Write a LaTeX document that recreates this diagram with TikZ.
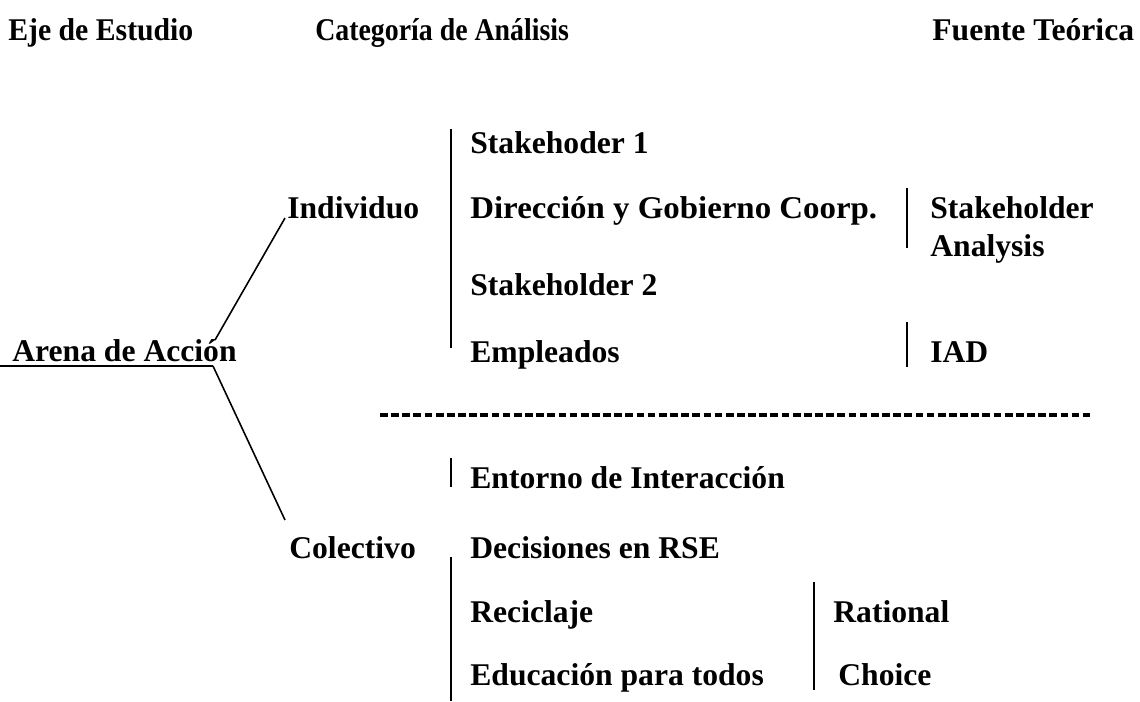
\documentclass[tikz,border=0pt]{standalone}
\usepackage{fontspec}
\setmainfont{Liberation Serif}
\newcommand{\hsq}[2]{\scalebox{#1}[1]{#2}}
\begin{document}
\begin{tikzpicture}[x=0.02cm,y=-0.02cm,
  lbl/.style={anchor=base west,inner sep=0pt,font=\fontsize{18}{21}\selectfont\bfseries},
  bar/.style={line width=1.1pt},
  branch/.style={line width=0.9pt}]
\useasboundingbox (0,0) rectangle (1140,701);
%
\node[lbl] (eje) at (8,40) {\hsq{0.94}{Eje de Estudio}};
\node[lbl] (cat) at (315,40) {\hsq{0.88}{Categoría de Análisis}};
\node[lbl] (fue) at (932,40) {Fuente Teórica};
%
\node[lbl] (arena) at (12,361) {Arena de Acción};
\coordinate (uline) at (0,366);
\coordinate (fork) at (213,366);
\coordinate (upS) at (215,340);
\coordinate (upE) at (285,218);
\coordinate (loE) at (285,520);
\draw[branch] (uline) -- (fork);
\draw[branch] (upS) -- (upE);
\draw[branch] (fork) -- (loE);
%
\node[lbl] (indiv) at (287,218) {Individuo};
\node[lbl] (stk1) at (470,153) {Stakehoder 1};
\node[lbl] (dir) at (470,218) {\hsq{1.04}{Dirección y Gobierno Coorp.}};
\node[lbl] (stk2) at (470,295) {Stakeholder 2};
\node[lbl] (emp) at (470,362) {Empleados};
\coordinate (b1t) at (451,129);
\coordinate (b1b) at (451,348);
\draw[bar] (b1t) -- (b1b);
%
\node[lbl] (sa1) at (930,218) {Stakeholder};
\node[lbl] (sa2) at (930,256) {Analysis};
\coordinate (b2t) at (907,188);
\coordinate (b2b) at (907,248);
\draw[bar] (b2t) -- (b2b);
\node[lbl] (iad) at (930,362) {IAD};
\coordinate (b3t) at (907,322);
\coordinate (b3b) at (907,367);
\draw[bar] (b3t) -- (b3b);
%
\coordinate (dashL) at (380,415);
\coordinate (dashR) at (1090,415);
\draw[line width=2pt,dash pattern=on 4.4pt off 1.95pt] (dashL) -- (dashR);
%
\node[lbl] (ent) at (470,488) {Entorno de Interacción};
\coordinate (b4t) at (451,458);
\coordinate (b4b) at (451,487);
\draw[bar] (b4t) -- (b4b);
\node[lbl] (colec) at (289,558) {Colectivo};
\node[lbl] (dec) at (470,558) {Decisiones en RSE};
\node[lbl] (rec) at (470,622) {Reciclaje};
\node[lbl] (edu) at (470,685) {Educación para todos};
\coordinate (b5t) at (451,557);
\coordinate (b5b) at (451,701);
\draw[bar] (b5t) -- (b5b);
%
\node[lbl] (rat) at (833,622) {Rational};
\node[lbl] (cho) at (838,685) {Choice};
\coordinate (b6t) at (814,582);
\coordinate (b6b) at (814,690);
\draw[bar] (b6t) -- (b6b);
\end{tikzpicture}
\end{document}
